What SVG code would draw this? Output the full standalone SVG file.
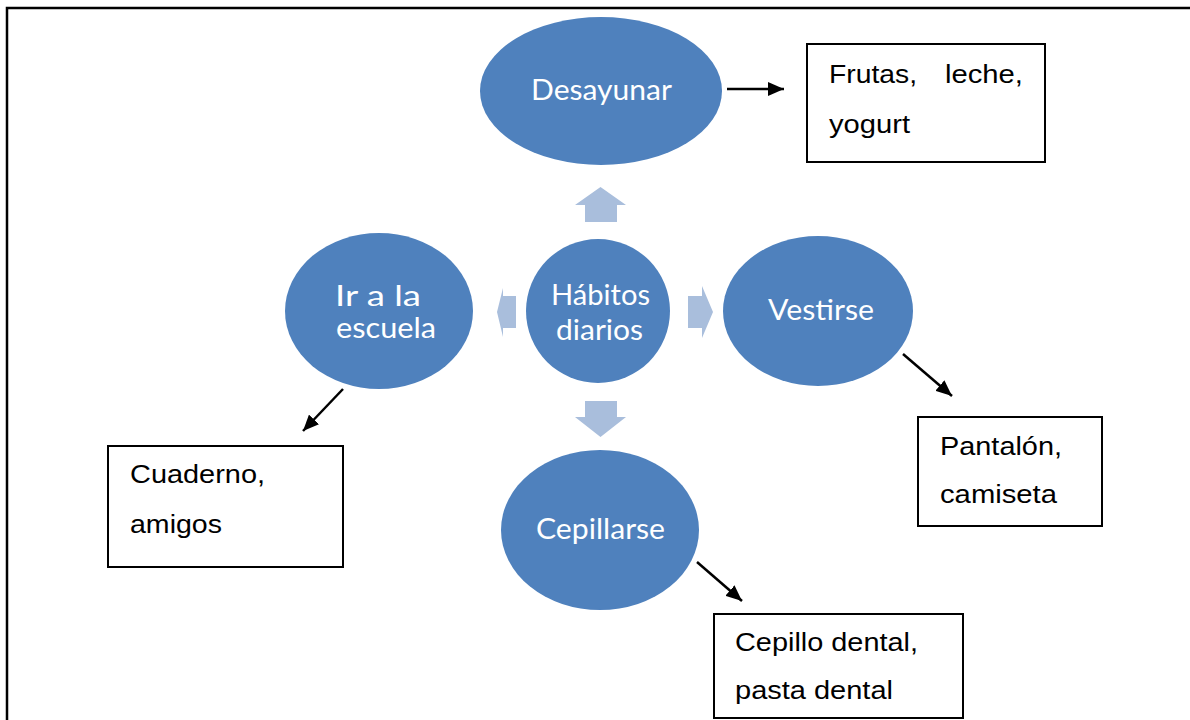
<svg xmlns="http://www.w3.org/2000/svg" width="1190" height="720" viewBox="0 0 1190 720">
<defs>
<style>
.node{fill:#4F81BD;}
.nt{font-family:Lato,"Open Sans",sans-serif;font-size:29px;fill:#ffffff;text-anchor:middle;}
.bx{fill:#ffffff;stroke:#000000;stroke-width:2;}
.bt{font-family:"Liberation Sans",Arial,sans-serif;font-size:26px;fill:#000000;}
.lt{fill:#A9BEDC;}
</style>
<marker id="ahb" viewBox="0 0 16 14" refX="16" refY="7" markerWidth="16" markerHeight="14" markerUnits="userSpaceOnUse" orient="auto">
<path d="M0,0 L16,7 L0,14 z" fill="#000000"/>
</marker>
</defs>
<rect width="1190" height="720" fill="#ffffff"/>
<path d="M7,720 V8 H1190" fill="none" stroke="#000000" stroke-width="2.5"/>

<g id="connectors">
<polygon class="lt" points="585,222 585,205 575,205 600.5,187 626,205 617,205 617,222"/>
<polygon class="lt" points="585,401 617,401 617,417 626,417 600.5,437 575,417 585,417"/>
<polygon class="lt" points="688,296 702,296 702,286 713,312 702,338 702,328 688,328"/>
<polygon class="lt" points="516,296 503,296 503,288 497,312 503,337 503,328 516,328"/>
<line x1="727" y1="89" x2="784" y2="89" stroke="#000" stroke-width="2.5" marker-end="url(#ahb)"/>
<line x1="903" y1="354" x2="952" y2="396" stroke="#000" stroke-width="2.5" marker-end="url(#ahb)"/>
<line x1="343" y1="389" x2="303" y2="431" stroke="#000" stroke-width="2.5" marker-end="url(#ahb)"/>
<line x1="697" y1="562" x2="742" y2="601" stroke="#000" stroke-width="2.5" marker-end="url(#ahb)"/>
</g>

<g id="desayunar">
<ellipse class="node" cx="601" cy="91" rx="121" ry="74"/>
<text class="nt" x="601.5" y="100" textLength="141" lengthAdjust="spacingAndGlyphs">Desayunar</text>
</g>
<g id="habitos">
<circle class="node" cx="598" cy="311" r="72"/>
<text class="nt" x="600.5" y="305" textLength="99" lengthAdjust="spacingAndGlyphs">Hábitos</text>
<text class="nt" x="599.5" y="340" textLength="87" lengthAdjust="spacingAndGlyphs">diarios</text>
</g>
<g id="vestirse">
<ellipse class="node" cx="818" cy="311" rx="95" ry="75"/>
<text class="nt" x="821" y="320" textLength="106" lengthAdjust="spacingAndGlyphs">Vestirse</text>
</g>
<g id="escuela">
<ellipse class="node" cx="379" cy="311" rx="94" ry="78"/>
<text class="nt" x="378" y="306" textLength="86" lengthAdjust="spacingAndGlyphs">Ir a la</text>
<text class="nt" x="386" y="338" textLength="100" lengthAdjust="spacingAndGlyphs">escuela</text>
</g>
<g id="cepillarse">
<ellipse class="node" cx="600" cy="530" rx="99" ry="80"/>
<text class="nt" x="600.5" y="539" textLength="129" lengthAdjust="spacingAndGlyphs">Cepillarse</text>
</g>

<g id="box-frutas">
<rect class="bx" x="807" y="44" width="238" height="118"/>
<text class="bt" x="829" y="83" textLength="88" lengthAdjust="spacingAndGlyphs">Frutas,</text>
<text class="bt" x="945" y="83" textLength="78" lengthAdjust="spacingAndGlyphs">leche,</text>
<text class="bt" x="829" y="133" textLength="81" lengthAdjust="spacingAndGlyphs">yogurt</text>
</g>
<g id="box-pantalon">
<rect class="bx" x="918" y="417" width="184" height="109"/>
<text class="bt" x="940" y="455" textLength="122" lengthAdjust="spacingAndGlyphs">Pantalón,</text>
<text class="bt" x="940" y="503" textLength="117" lengthAdjust="spacingAndGlyphs">camiseta</text>
</g>
<g id="box-cuaderno">
<rect class="bx" x="108" y="446" width="235" height="121"/>
<text class="bt" x="130" y="483" textLength="135" lengthAdjust="spacingAndGlyphs">Cuaderno,</text>
<text class="bt" x="130" y="533" textLength="92" lengthAdjust="spacingAndGlyphs">amigos</text>
</g>
<g id="box-cepillo">
<rect class="bx" x="714" y="614" width="249" height="104"/>
<text class="bt" x="735" y="651" textLength="183" lengthAdjust="spacingAndGlyphs">Cepillo dental,</text>
<text class="bt" x="735" y="699" textLength="158" lengthAdjust="spacingAndGlyphs">pasta dental</text>
</g>
</svg>
